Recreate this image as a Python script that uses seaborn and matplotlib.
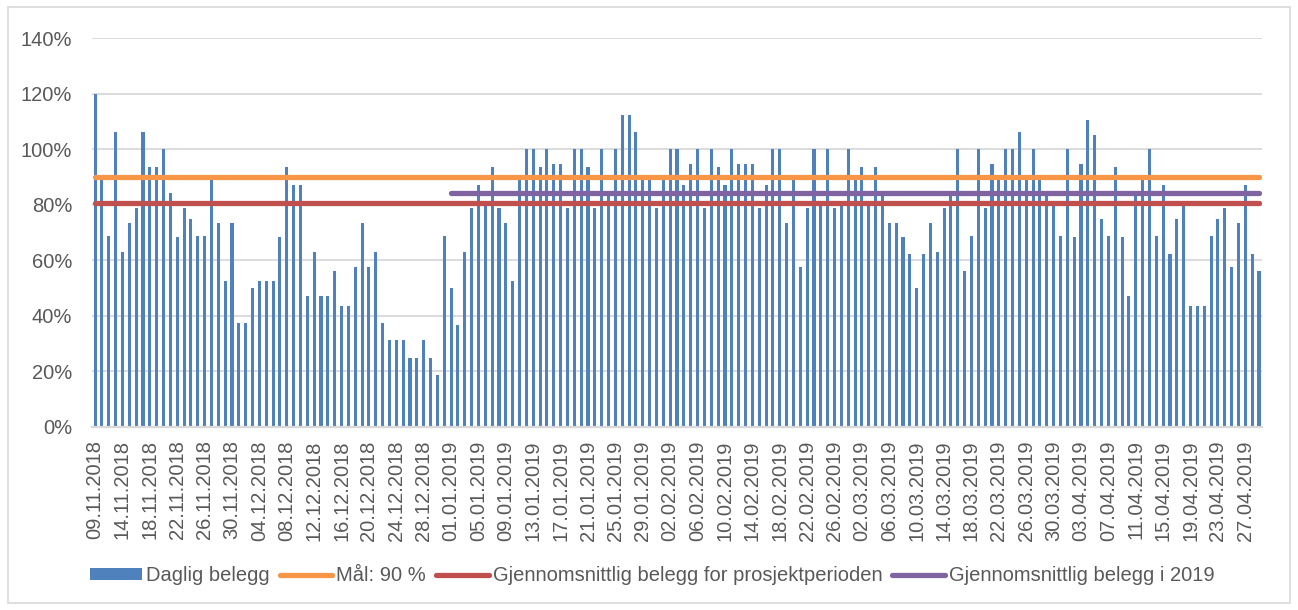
import numpy as np
import pandas as pd
import seaborn as sns
import matplotlib.pyplot as plt
from matplotlib.patches import Patch, Rectangle
from matplotlib.lines import Line2D
from matplotlib.ticker import PercentFormatter

# ---- data ----
dates = [d.strftime("%d.%m.%Y") for d in pd.date_range("2018-11-09", "2019-04-29")
         if d != pd.Timestamp("2018-11-10")]

daglig = [
    120.0, 88.9, 68.6, 106.2, 63.0, 73.4, 78.8, 106.2, 93.6, 93.6,
    100.0, 84.2, 68.3, 78.8, 74.9, 68.6, 68.6, 88.9, 73.4, 52.4,
    73.4, 37.2, 37.2, 49.9, 52.4, 52.4, 52.4, 68.3, 93.6, 87.2,
    87.2, 47.0, 63.0, 47.0, 47.0, 56.0, 43.4, 43.4, 57.6, 73.4,
    57.6, 63.0, 37.2, 31.0, 31.0, 31.0, 24.7, 24.7, 31.0, 24.7,
    18.5, 68.6, 49.9, 36.6, 63.0, 78.8, 87.2, 81.0, 93.6, 78.8,
    73.4, 52.4, 88.9, 100.0, 100.0, 93.6, 100.0, 94.6, 94.6, 78.8,
    100.0, 100.0, 93.6, 78.8, 100.0, 84.0, 100.0, 112.4, 112.4, 106.2,
    88.9, 88.9, 78.8, 88.9, 100.0, 100.0, 87.2, 94.6, 100.0, 78.8,
    100.0, 93.6, 87.2, 100.0, 94.6, 94.6, 94.6, 78.8, 87.2, 100.0,
    100.0, 73.4, 88.9, 57.6, 78.8, 100.0, 81.0, 100.0, 78.8, 81.0,
    100.0, 88.9, 93.6, 81.0, 93.6, 84.0, 73.4, 73.4, 68.3, 62.3,
    49.9, 62.3, 73.4, 63.0, 78.8, 84.0, 100.0, 56.0, 68.6, 100.0,
    78.8, 94.6, 88.9, 100.0, 100.0, 106.2, 88.9, 100.0, 88.9, 83.2,
    79.6, 68.6, 100.0, 68.3, 94.6, 110.4, 105.1, 74.9, 68.6, 93.6,
    68.3, 47.0, 83.2, 88.9, 100.0, 68.6, 87.2, 62.3, 74.9, 79.4,
    43.4, 43.4, 43.4, 68.6, 74.9, 78.8, 57.6, 73.4, 87.2, 62.3,
    56.0,
]

MAL = 90.0
SNITT_PROSJEKT = 80.7
SNITT_2019 = 84.0

# ---- styling ----
BAR_COLOR = "#4F81BD"
ORANGE = "#F79646"
RED = "#C0504D"
PURPLE = "#8064A2"
TEXT_COLOR = "#595959"
GRID_COLOR = "#D9D9D9"
FS = 14.5

sns.set_style("white")
plt.rcParams["font.family"] = ["Liberation Sans", "DejaVu Sans"]

df = pd.DataFrame({"dato": dates, "belegg": daglig})
df["pos"] = np.arange(len(df))
df["mal"] = MAL
df["snitt"] = SNITT_PROSJEKT
df["snitt19"] = SNITT_2019
df19 = df[df["dato"].str.endswith("2019")]

fig = plt.figure(figsize=(12.98, 6.10), dpi=100)
ax = fig.add_axes([0.0706, 0.3008, 0.9020, 0.6369])

sns.barplot(data=df, x="dato", y="belegg", ax=ax, color=BAR_COLOR,
            width=0.45, saturation=1, linewidth=0, order=dates)

line_kw = dict(linewidth=3.8, solid_capstyle="round", legend=False, ax=ax)
sns.lineplot(data=df, x="pos", y="mal", color=ORANGE, **line_kw)
sns.lineplot(data=df, x="pos", y="snitt", color=RED, **line_kw)
sns.lineplot(data=df19, x="pos", y="snitt19", color=PURPLE, **line_kw)

ax.set_xlim(-0.5, len(dates) - 0.5)
ax.set_ylim(0, 140)
ax.set_yticks(np.arange(0, 141, 20))
ax.yaxis.set_major_formatter(PercentFormatter(100, decimals=0))
ax.grid(axis="y", color=GRID_COLOR, linewidth=1.3)
ax.set_axisbelow(True)

# hver fjerde dato som etikett
ax.set_xticks(df["pos"][::4])
ax.set_xticklabels(df["dato"][::4], rotation=90)
ax.tick_params(axis="x", length=0, pad=10, labelsize=FS, labelcolor=TEXT_COLOR)
ax.tick_params(axis="y", length=0, pad=14, labelsize=FS, labelcolor=TEXT_COLOR)
ax.set_xlabel("")
ax.set_ylabel("")

for s in ["top", "right", "left"]:
    ax.spines[s].set_visible(False)
ax.spines["bottom"].set_color(GRID_COLOR)
ax.spines["bottom"].set_linewidth(1.6)

handles = [
    Patch(facecolor=BAR_COLOR, edgecolor="none"),
    Line2D([], [], color=ORANGE, lw=3.8, solid_capstyle="round"),
    Line2D([], [], color=RED, lw=3.8, solid_capstyle="round"),
    Line2D([], [], color=PURPLE, lw=3.8, solid_capstyle="round"),
]
labels = ["Daglig belegg", "Mål: 90 %",
          "Gjennomsnittlig belegg for prosjektperioden",
          "Gjennomsnittlig belegg i 2019"]
leg = fig.legend(handles, labels, loc="center left", bbox_to_anchor=(0.0615, 0.056),
                 ncol=4, frameon=False, fontsize=FS, handlelength=2.6,
                 handleheight=0.5, handletextpad=0.2, columnspacing=0.5,
                 borderpad=0)
for t in leg.get_texts():
    t.set_color(TEXT_COLOR)

fig.add_artist(Rectangle((0.006, 0.011), 0.988, 0.978, transform=fig.transFigure,
                         fill=False, edgecolor=GRID_COLOR, linewidth=1.2))

fig.savefig("out.png", dpi=100)
